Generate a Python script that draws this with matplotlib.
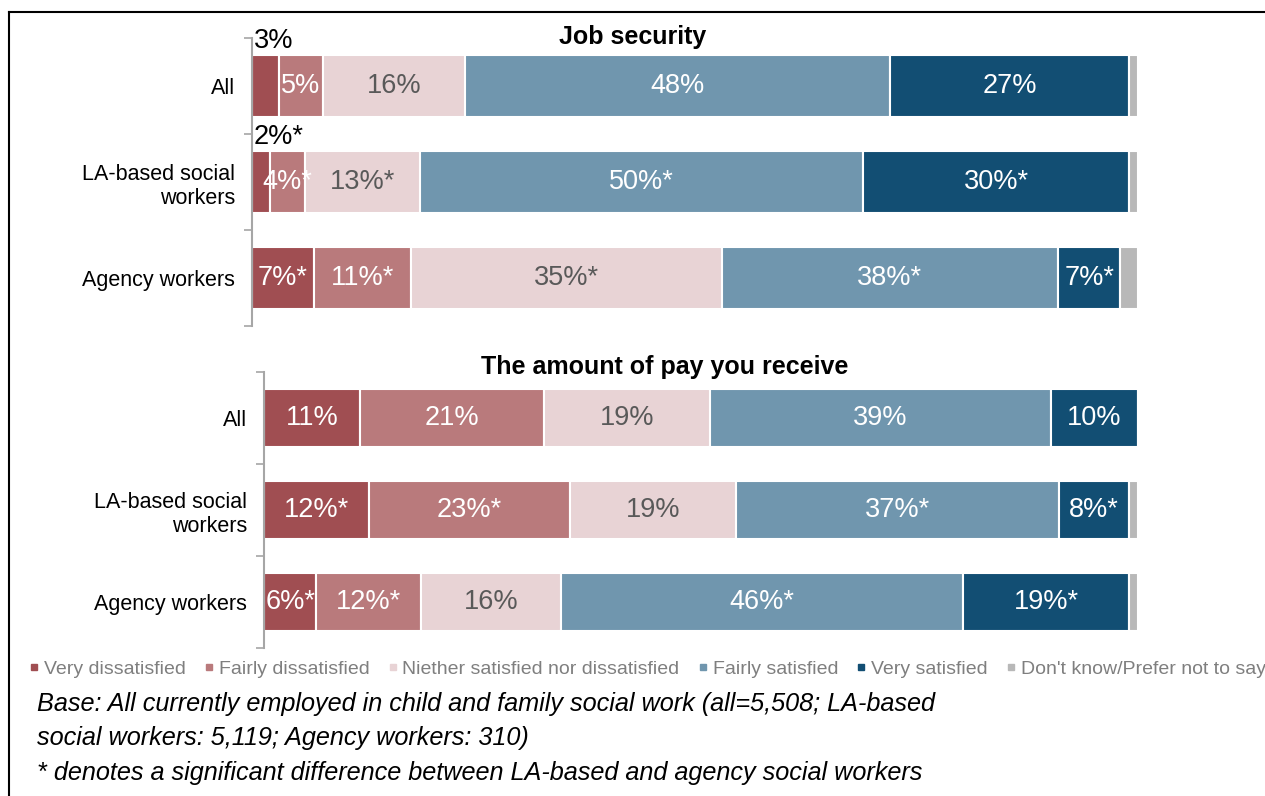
import matplotlib
matplotlib.use("Agg")
import matplotlib.pyplot as plt
import numpy as np
from matplotlib.lines import Line2D

plt.rcParams["font.family"] = ["Liberation Sans", "DejaVu Sans"]

# data
groups = ["All", "LA-based social\nworkers", "Agency workers"]
responses = [
    "Very dissatisfied",
    "Fairly dissatisfied",
    "Niether satisfied nor dissatisfied",
    "Fairly satisfied",
    "Very satisfied",
    "Don't know/Prefer not to say",
]
colors = ["#A04E52", "#B97A7C", "#E8D3D5", "#7096AE", "#124E73", "#B8B8B8"]
text_colors = ["white", "white", "#595959", "white", "white", None]

job_values = [
    [3, 5, 16, 48, 27, 1],
    [2, 4, 13, 50, 30, 1],
    [7, 11, 35, 38, 7, 2],
]
job_labels = [
    ["3%", "5%", "16%", "48%", "27%", ""],
    ["2%*", "4%*", "13%*", "50%*", "30%*", ""],
    ["7%*", "11%*", "35%*", "38%*", "7%*", ""],
]
pay_values = [
    [11, 21, 19, 39, 10, 0],
    [12, 23, 19, 37, 8, 1],
    [6, 12, 16, 46, 19, 1],
]
pay_labels = [
    ["11%", "21%", "19%", "39%", "10%", ""],
    ["12%*", "23%*", "19%", "37%*", "8%*", ""],
    ["6%*", "12%*", "16%", "46%*", "19%*", ""],
]
# small segments whose label sits above the bar in black
outside = {(0, 0), (1, 0)}

W, H = 1265, 796
fig = plt.figure(figsize=(W / 100, H / 100), dpi=100)


def draw_panel(ax, values, labels, outside_set):
    values = np.array(values, dtype=float)
    y = np.arange(len(groups))
    left = np.zeros(len(groups))
    for j in range(values.shape[1]):
        ax.barh(y, values[:, j], left=left, height=0.64, color=colors[j],
                edgecolor="white", linewidth=1.5)
        for i in range(len(groups)):
            lab = labels[i][j]
            if lab:
                if (i, j) in outside_set:
                    ax.text(left[i] + 0.2, y[i] - 0.33, lab, ha="left", va="bottom",
                            fontsize=19.5, color="black")
                else:
                    ax.text(left[i] + values[i, j] / 2, y[i], lab, ha="center",
                            va="center", fontsize=19.5, color=text_colors[j])
        left += values[:, j]
    ax.set_xlim(0, 100)
    ax.set_ylim(len(groups) - 0.5, -0.5)
    ax.set_yticks(np.arange(len(groups) + 1) - 0.5)
    ax.set_yticklabels([])
    ax.tick_params(axis="y", which="major", direction="out", length=6,
                   color="#A6A6A6", width=1.2)
    ax.set_yticks(y, groups, minor=True)
    ax.tick_params(axis="y", which="minor", length=0, pad=12, labelsize=15.5)
    for lab in ax.get_yticklabels(minor=True):
        lab.set_horizontalalignment("right")
        lab.set_multialignment("right")
    ax.xaxis.set_visible(False)
    for s in ["top", "right", "bottom"]:
        ax.spines[s].set_visible(False)
    ax.spines["left"].set_color("#A6A6A6")
    ax.spines["left"].set_linewidth(1.5)


ax1 = fig.add_axes([252 / W, 1 - 326 / H, (1138 - 252) / W, 288 / H])
draw_panel(ax1, job_values, job_labels, outside)
ax2 = fig.add_axes([264 / W, 1 - 648 / H, (1138 - 264) / W, 276 / H])
draw_panel(ax2, pay_values, pay_labels, set())

fig.text(633 / W, 1 - 37 / H, "Job security", ha="center", va="center",
         fontsize=18, fontweight="bold")
fig.text(665 / W, 1 - 367 / H, "The amount of pay you receive", ha="center",
         va="center", fontsize=18, fontweight="bold")

handles = [Line2D([], [], marker="s", linestyle="none", markersize=5,
                  markerfacecolor=c, markeredgecolor=c) for c in colors]
leg = fig.legend(handles, responses, loc="center left",
                 bbox_to_anchor=(29 / W, 1 - 669 / H), ncol=6, frameon=False,
                 fontsize=14, handlelength=0.5, handletextpad=0.25,
                 columnspacing=0.95, borderpad=0, borderaxespad=0)
for t in leg.get_texts():
    t.set_color("#7F7F7F")

notes = [
    "Base: All currently employed in child and family social work (all=5,508; LA-based",
    "social workers: 5,119; Agency workers: 310)",
    "* denotes a significant difference between LA-based and agency social workers",
]
for k, line in enumerate(notes):
    fig.text(37 / W, 1 - (704 + 34.5 * k) / H, line, ha="left", va="center",
             fontsize=18.2, fontstyle="italic")

# outer frame (top and left edges visible)
fig.add_artist(Line2D([9 / W, 1], [1 - 12 / H, 1 - 12 / H], color="black",
                      linewidth=1.5, transform=fig.transFigure))
fig.add_artist(Line2D([9 / W, 9 / W], [0, 1 - 12 / H], color="black",
                      linewidth=1.5, transform=fig.transFigure))

fig.savefig("out.png", dpi=100)
